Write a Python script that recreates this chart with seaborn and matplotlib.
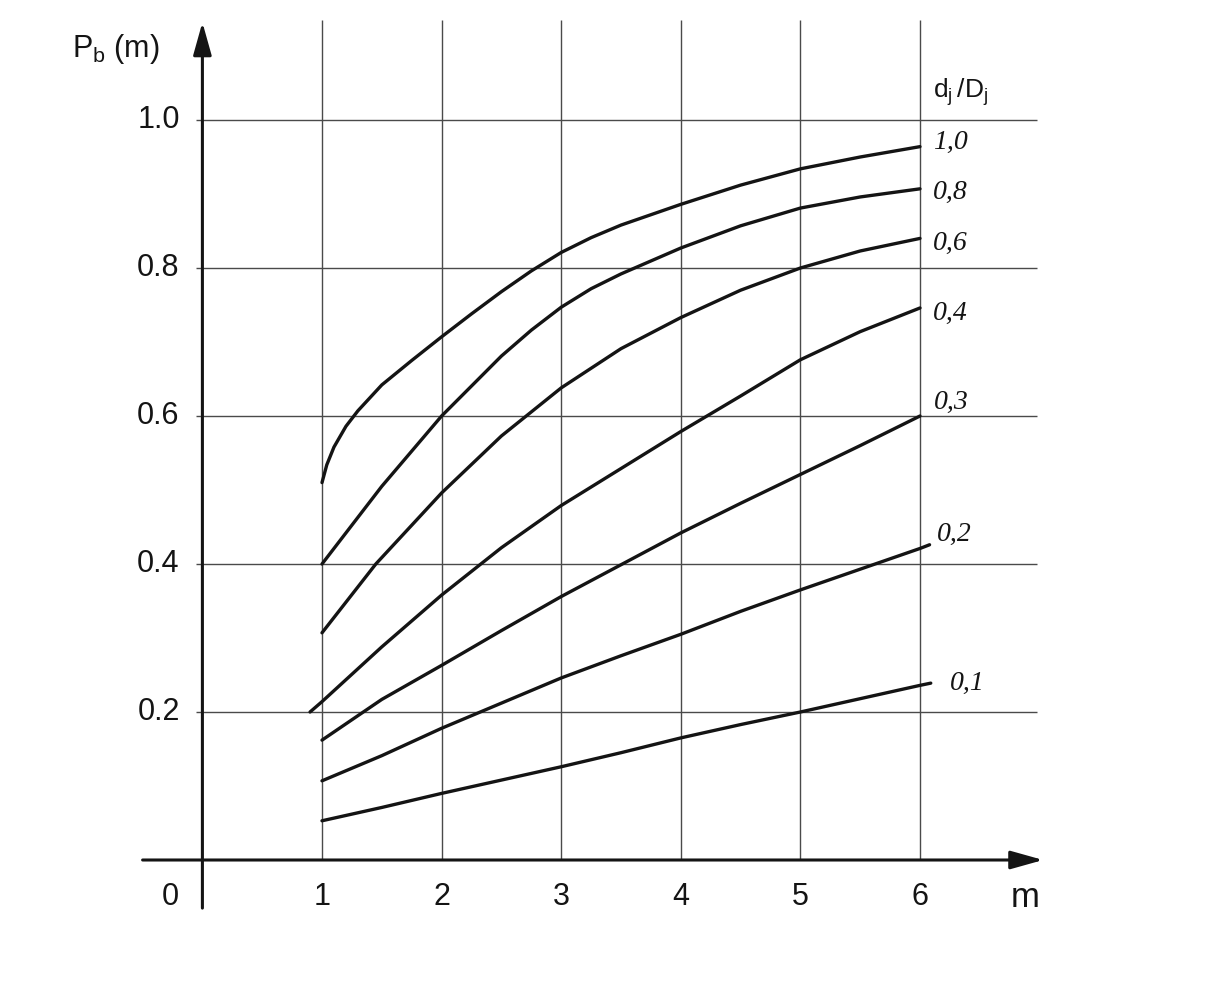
import matplotlib
matplotlib.use("Agg")
import matplotlib.pyplot as plt
import pandas as pd
import seaborn as sns

# ---------------- data ----------------
ratio_labels = ["1,0", "0,8", "0,6", "0,4", "0,3", "0,2", "0,1"]

m_10 = [1.0, 1.04, 1.1, 1.2, 1.3, 1.5, 1.75, 2.0, 2.25, 2.5, 2.75, 3.0, 3.25, 3.5, 4.0, 4.5, 5.0, 5.5, 6.0]
pb_10 = [0.510, 0.534, 0.558, 0.586, 0.607, 0.642, 0.675, 0.707, 0.738, 0.768, 0.796, 0.821, 0.841, 0.858, 0.886, 0.912, 0.934, 0.950, 0.964]

m_08 = [1.0, 1.5, 2.0, 2.5, 2.75, 3.0, 3.25, 3.5, 4.0, 4.5, 5.0, 5.5, 6.0]
pb_08 = [0.400, 0.505, 0.600, 0.681, 0.716, 0.747, 0.772, 0.792, 0.827, 0.857, 0.881, 0.896, 0.907]

m_06 = [1.0, 1.45, 2.0, 2.5, 3.0, 3.5, 4.0, 4.5, 5.0, 5.5, 6.0]
pb_06 = [0.307, 0.400, 0.496, 0.573, 0.638, 0.691, 0.733, 0.770, 0.800, 0.823, 0.840]

m_04 = [0.9, 1.0, 1.5, 2.0, 2.5, 3.0, 3.5, 4.0, 4.5, 5.0, 5.5, 6.0]
pb_04 = [0.200, 0.214, 0.288, 0.358, 0.422, 0.479, 0.529, 0.579, 0.627, 0.676, 0.714, 0.746]

m_03 = [1.0, 1.5, 2.0, 2.5, 3.0, 3.5, 4.0, 4.5, 5.0, 5.5, 6.0]
pb_03 = [0.162, 0.217, 0.263, 0.310, 0.356, 0.399, 0.442, 0.482, 0.521, 0.560, 0.600]

m_02 = [1.0, 1.5, 2.0, 2.5, 3.0, 3.5, 4.0, 4.5, 5.0, 5.5, 6.0, 6.08]
pb_02 = [0.107, 0.141, 0.178, 0.212, 0.246, 0.276, 0.305, 0.336, 0.365, 0.393, 0.421, 0.426]

m_01 = [1.0, 1.5, 2.0, 2.5, 3.0, 3.5, 4.0, 4.5, 5.0, 5.5, 6.0, 6.09]
pb_01 = [0.053, 0.071, 0.090, 0.108, 0.126, 0.145, 0.165, 0.183, 0.200, 0.218, 0.236, 0.239]

x_ticks = [1, 2, 3, 4, 5, 6]
x_tick_labels = ["1", "2", "3", "4", "5", "6"]
y_ticks = [0.2, 0.4, 0.6, 0.8, 1.0]
y_tick_labels = ["0.2", "0.4", "0.6", "0.8", "1.0"]
origin_label = "0"
x_label = "m"
y_label = r"$\mathregular{P_b}$ (m)"
legend_title = r"$\mathregular{d_j\,/D_j}$"

series_m = [m_10, m_08, m_06, m_04, m_03, m_02, m_01]
series_pb = [pb_10, pb_08, pb_06, pb_04, pb_03, pb_02, pb_01]

rows = []
for lab, xs, ys in zip(ratio_labels, series_m, series_pb):
    for xv, yv in zip(xs, ys):
        rows.append({"ratio": lab, "m": xv, "pb": yv})
df = pd.DataFrame(rows)

# ---------------- layout / style ----------------
W, H, DPI = 1215, 997, 100
PX_X0, PX_PER_X = 202.4, 119.6     # pixel position of m=0 and pixels per unit
PX_Y0, PX_PER_Y = 860.0, 740.0     # pixel position of Pb=0 and pixels per unit

# label offsets (pixels) from the end of each curve
label_offsets_px = {"1,0": (13, 4), "0,8": (13, -4), "0,6": (13, -5), "0,4": (13, -5),
                    "0,3": (14, 14), "0,2": (7, 10), "0,1": (19, 0)}

sns.set_style("white")
plt.rcParams["font.family"] = ["Liberation Sans", "DejaVu Sans"]
plt.rcParams["mathtext.default"] = "regular"

fig = plt.figure(figsize=(W / DPI, H / DPI), dpi=DPI)
fig.patch.set_facecolor("white")
ax = fig.add_axes([0, 0, 1, 1])
ax.set_xlim(-PX_X0 / PX_PER_X, (W - PX_X0) / PX_PER_X)
ax.set_ylim((PX_Y0 - H) / PX_PER_Y, PX_Y0 / PX_PER_Y)
ax.axis("off")

grid_col = "#4a4a4a"
ink = "#141414"

# grid
ax.vlines(x_ticks, 0, 1.135, color=grid_col, lw=1.0, zorder=1)
ax.hlines(y_ticks, -0.05, 6.98, color=grid_col, lw=1.0, zorder=1)

# axes with arrows
arrow_style = "-|>,head_length=1.0,head_width=0.28"
ax.annotate("", xy=(7.03, 0), xytext=(-0.5, 0),
            arrowprops=dict(arrowstyle=arrow_style, lw=2.2, color=ink,
                            mutation_scale=20, shrinkA=0, shrinkB=0), zorder=3)
ax.annotate("", xy=(0, 1.132), xytext=(0, -0.065),
            arrowprops=dict(arrowstyle=arrow_style, lw=2.2, color=ink,
                            mutation_scale=20, shrinkA=0, shrinkB=0), zorder=3)

# curves
sns.lineplot(data=df, x="m", y="pb", hue="ratio", hue_order=ratio_labels,
             palette=[ink] * len(ratio_labels), legend=False, sort=False,
             estimator=None, lw=2.4, ax=ax, zorder=4,
             solid_joinstyle="round", solid_capstyle="round")

# curve labels
for lab, xs, ys in zip(ratio_labels, series_m, series_pb):
    dx, dy = label_offsets_px[lab]
    ax.annotate(lab, xy=(xs[-1], ys[-1]), xytext=(dx * 72 / DPI, dy * 72 / DPI),
                textcoords="offset points", ha="left", va="center",
                fontsize=20, fontstyle="italic", family=["Liberation Serif"],
                color=ink)

ax.text(6.11, 1.038, legend_title, ha="left", va="center", fontsize=19, color=ink)

# tick labels
for xv, t in zip(x_ticks, x_tick_labels):
    ax.text(xv, -0.05, t, ha="center", va="center", fontsize=22, color=ink)
for yv, t in zip(y_ticks, y_tick_labels):
    ax.text(-0.19, yv, t, ha="right", va="center", fontsize=22, color=ink)
ax.text(-0.27, -0.05, origin_label, ha="center", va="center", fontsize=22, color=ink)
ax.text(6.88, -0.05, x_label, ha="center", va="center", fontsize=25, color=ink)
ax.text(-1.09, 1.085, y_label, ha="left", va="baseline", fontsize=22, color=ink)

fig.savefig("out.png", dpi=DPI, facecolor="white")
